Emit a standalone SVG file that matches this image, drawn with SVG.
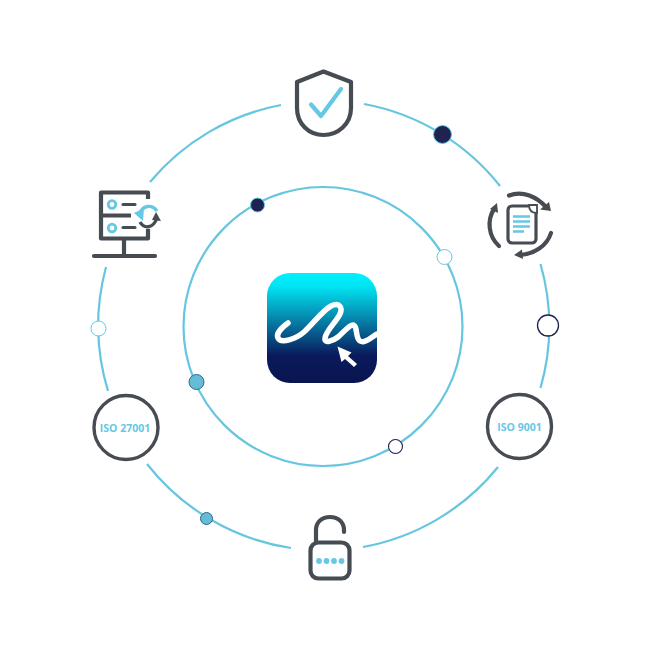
<svg xmlns="http://www.w3.org/2000/svg" width="651" height="651" viewBox="0 0 651 651">
<defs>
<linearGradient id="g" x1="0" y1="0" x2="0" y2="1"><stop offset="0" stop-color="#00f0ff"/><stop offset="0.12" stop-color="#00e4f2"/><stop offset="0.75" stop-color="#0a1a5c"/><stop offset="1" stop-color="#08154f"/></linearGradient>
</defs>
<style>
.ring{fill:none;stroke:#66c6e0;stroke-width:2.200}
.dk{fill:none;stroke:#474c53;stroke-width:4.200;stroke-linecap:round;stroke-linejoin:round}
.bl{fill:none;stroke:#66c8e4;stroke-linecap:round;stroke-linejoin:round}
.lb{font-family:"Open Sans","Lato",sans-serif;font-size:10.5px;font-weight:700;fill:#66c8e4;text-anchor:middle}
.dn{fill:#1e2350;stroke:#66c6e0;stroke-width:1}
.wn{fill:#fff;stroke:#66c6e0;stroke-width:1}
</style>
<rect width="651" height="651" fill="#fff"/>
<g id="connectors">
<circle class="ring" cx="323" cy="326.500" r="139.500"/>
<path class="ring" d="M364 104A225.500 225.500 0 0 1 500 186"/>
<path class="ring" d="M540.500 264A225.500 225.500 0 0 1 540.500 388"/>
<path class="ring" d="M498 467A225.500 225.500 0 0 1 363 547"/>
<path class="ring" d="M291 548A225.500 225.500 0 0 1 147 464"/>
<path class="ring" d="M108 391A225.500 225.500 0 0 1 106 267"/>
<path class="ring" d="M150 182A225.500 225.500 0 0 1 281 105"/>
</g>
<g id="dots">
<circle class="dn" cx="442.500" cy="134.500" r="9"/>
<circle cx="548" cy="325.500" r="10.500" fill="#fff" stroke="#1e2350" stroke-width="1.300"/>
<circle cx="206.500" cy="518.500" r="6" fill="#66bcd6" stroke="#2b6a8a" stroke-width="1"/>
<circle class="wn" cx="98.500" cy="328.500" r="7.500"/>
<circle class="dn" cx="257.500" cy="205" r="7"/>
<circle class="wn" cx="444.500" cy="257" r="7.500"/>
<circle cx="395.500" cy="446.500" r="7" fill="#fff" stroke="#1e2350" stroke-width="1.100"/>
<circle cx="196.500" cy="382" r="7.500" fill="#66bcd6" stroke="#2b6a8a" stroke-width="1"/>
</g>
<g id="center-logo">
<rect x="267" y="273" width="110" height="110" rx="23" fill="url(#g)"/>
<path d="M288 323C281 328 276 334 278 338C281 344 296 339 304 332C312 325 322 311 331 306C339 302 343 307 340 314C336 322 326 331 325 338C324 344 333 341 338 337C344 332 349 325 353 325C358 326 355 338 360 341C365 344 371 337 377 334" fill="none" stroke="#fff" stroke-width="5.500" stroke-linecap="round" stroke-linejoin="round"/>
<path d="M337.500 346.500L351.500 352.500L348 356L357 364L354 367L345 359L341.500 362Z" fill="#fff"/>
</g>
<g id="shield">
<path class="dk" d="M323.500 71.500L351 82V108C351 124 338 135 323.500 135C309 135 297 124 297 108V82Z"/>
<path class="bl" style="stroke-width:4.200" d="M311 104.500L321 116L341 89"/>
</g>
<g id="doc-cycle">
<rect class="dk" x="508" y="206" width="28" height="37" rx="4" style="stroke-width:3.200"/>
<path d="M529 205C529 210 532 213 537 213V205Z" fill="#fff" stroke="#474c53" stroke-width="1.800"/>
<path class="bl" style="stroke-width:2.500;stroke-linecap:butt" d="M513 216.500H530M513 221.500H530M513 226.500H530M513 231.500H524"/>
<path class="dk" d="M509 195.500C523 190 537 197 546 207"/>
<path d="M551 211L540 209.500L549 202Z" fill="#474c53"/>
<path class="dk" d="M499 246C488 236 487 220 494 209"/>
<path d="M497 203L498 213L490 209Z" fill="#474c53"/>
<path class="dk" d="M551 233C547 246 534 254 520 255"/>
<path d="M514 255L522 249.500L523 259Z" fill="#474c53"/>
</g>
<g id="server">
<path class="dk" style="stroke-linecap:butt" d="M148 199V192.500H101V238.500H148V229M101 215.500H131"/>
<circle cx="112" cy="204.500" r="3.800" fill="none" stroke="#66c8e4" stroke-width="2.800"/>
<circle cx="112" cy="228" r="3.800" fill="none" stroke="#66c8e4" stroke-width="2.800"/>
<path class="dk" style="stroke-width:3.200" d="M123 204.500H135M123 227.500H135"/>
<path class="dk" d="M124 239V256M94 256H155"/>
<path fill="none" stroke="#66c8e4" stroke-width="3.400" d="M140 214C142 205 152 204 157 211"/>
<path d="M134 213L144 208L143 221Z" fill="#66c8e4"/>
<path fill="none" stroke="#474c53" stroke-width="3.400" d="M140 222C144 229 153 229 157 218"/>
<path d="M156 212L161 221L152 220Z" fill="#474c53"/>
</g>
<g id="iso-9001">
<circle cx="519.500" cy="426.500" r="32" fill="#fff" stroke="#474c53" stroke-width="3.400"/>
<text class="lb" x="519.500" y="430.500">ISO 9001</text>
</g>
<g id="iso-27001">
<circle cx="126" cy="427.500" r="32" fill="#fff" stroke="#474c53" stroke-width="3.400"/>
<text class="lb" x="125" y="431.500">ISO 27001</text>
</g>
<g id="lock">
<rect class="dk" x="310.500" y="542.500" width="39" height="36" rx="8"/>
<path class="dk" d="M316 541V530C316 522 322 517 330 517C338 517 344 522 344 530V532"/>
<g fill="#66c8e4"><circle cx="319" cy="561" r="2.900"/><circle cx="326.500" cy="561" r="2.900"/><circle cx="334" cy="561" r="2.900"/><circle cx="341.500" cy="561" r="2.900"/></g>
</g>
</svg>
